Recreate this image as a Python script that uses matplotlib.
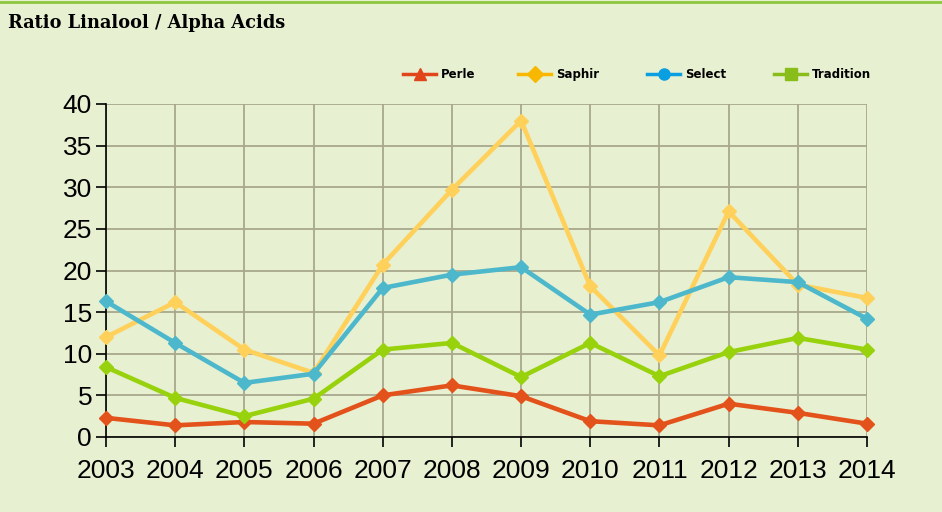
import matplotlib
matplotlib.use("Agg")
import matplotlib.pyplot as plt
from matplotlib.lines import Line2D

years = [2003, 2004, 2005, 2006, 2007, 2008, 2009, 2010, 2011, 2012, 2013, 2014]
perle = [2.3, 1.4, 1.8, 1.6, 5.0, 6.2, 4.9, 1.9, 1.4, 4.0, 2.9, 1.6]
saphir = [12.0, 16.2, 10.5, 7.7, 20.7, 29.7, 38.0, 18.1, 9.8, 27.1, 18.3, 16.7]
select = [16.3, 11.3, 6.5, 7.6, 17.9, 19.5, 20.4, 14.7, 16.2, 19.2, 18.6, 14.2]
tradition = [8.4, 4.7, 2.5, 4.6, 10.5, 11.3, 7.2, 11.3, 7.3, 10.2, 11.9, 10.5]
y_ticks = [0, 5, 10, 15, 20, 25, 30, 35, 40]

names = ["Perle", "Saphir", "Select", "Tradition"]
series = [perle, saphir, select, tradition]
line_colors = ["#e2521a", "#ffd05a", "#4db8cc", "#98d20c"]
legend_colors = ["#e0461a", "#f8b700", "#0a9fe0", "#88bd1a"]
legend_markers = ["^", "D", "o", "s"]

bg = "#e8f0d2"
fig = plt.figure(figsize=(9.42, 5.12), dpi=100, facecolor=bg)
ax = fig.add_axes([106 / 942, 1 - 437 / 512, 761 / 942, 333 / 512])
ax.set_facecolor(bg)

# top border strip
fig.add_artist(Line2D([0, 1], [1 - 2 / 512, 1 - 2 / 512], color="#8cc63f", lw=2,
                      transform=fig.transFigure))

for vals, c in zip(series, line_colors):
    ax.plot(years, vals, color=c, lw=3.3, marker="D", ms=7.5, mec=c, mfc=c,
            zorder=3, clip_on=False)

ax.set_xlim(2003, 2014)
ax.set_ylim(0, 40)
ax.set_xticks(years)
ax.set_yticks(y_ticks)
ax.grid(True, color="#a8a88c", lw=1.3, zorder=0)
ax.set_axisbelow(True)
for s in ["top", "right"]:
    ax.spines[s].set_visible(False)
for s in ["left", "bottom"]:
    ax.spines[s].set_color("black")
    ax.spines[s].set_linewidth(1.2)
ax.tick_params(axis="both", direction="out", length=7, width=1.2, color="black",
               labelsize=19)
ax.tick_params(axis="x", pad=9)
ax.tick_params(axis="y", pad=3)
for lab in ax.get_xticklabels() + ax.get_yticklabels():
    lab.set_fontfamily("Liberation Sans")

fig.text(8 / 942, 1 - 23 / 512, "Ratio Linalool / Alpha Acids", fontsize=12.8,
         fontweight="bold", fontfamily="DejaVu Serif", va="center", ha="left")

# legend, drawn row by row
leg_x = [403, 518, 647, 774]
ly = 1 - 74 / 512
for x, n, c, m in zip(leg_x, names, legend_colors, legend_markers):
    fig.add_artist(Line2D([x / 942, (x + 33) / 942], [ly, ly], color=c, lw=2.5,
                          transform=fig.transFigure))
    fig.add_artist(Line2D([(x + 16.5) / 942], [ly], color=c, marker=m, ms=8,
                          mec=c, mfc=c, transform=fig.transFigure))
    fig.text((x + 38) / 942, ly - 4 / 512, n, fontsize=8.5, fontweight="bold",
             fontfamily="Liberation Sans Narrow", va="baseline", ha="left")

fig.savefig("out.png", dpi=100, facecolor=bg)
